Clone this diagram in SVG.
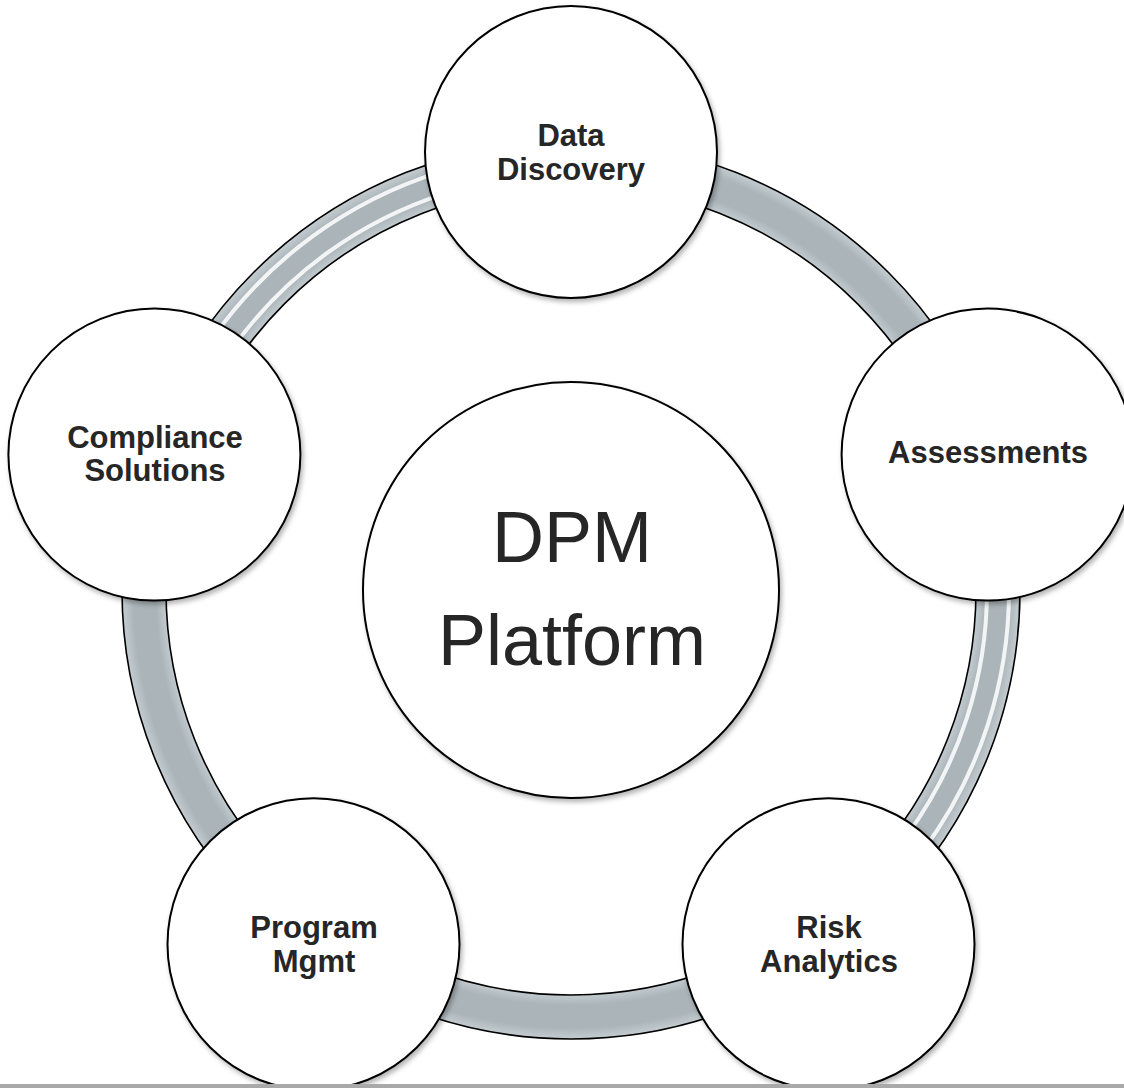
<svg xmlns="http://www.w3.org/2000/svg" width="1124" height="1088" viewBox="0 0 1124 1088">
  <style>
    .node { fill: #ffffff; stroke: #000000; stroke-width: 2; filter: url(#shadow); }
    .lbl { font-family: "Liberation Sans", Arial, sans-serif; font-weight: bold; font-size: 31px; fill: #262626; text-anchor: middle; }
    .big { font-family: "Liberation Sans", Arial, sans-serif; font-size: 72px; fill: #262626; text-anchor: middle; }
    .edge { fill: none; stroke: #000000; stroke-width: 1.6; }
    .stripe { fill: none; stroke: #ffffff; stroke-width: 4; stroke-opacity: 0.85; }
  </style>
  <defs>
    <filter id="shadow" x="-10%" y="-10%" width="125%" height="125%">
      <feDropShadow dx="2" dy="3" stdDeviation="2.5" flood-color="#000000" flood-opacity="0.3"/>
    </filter>
    <radialGradient id="bandGrad" gradientUnits="userSpaceOnUse" cx="571" cy="590" r="449">
      <stop offset="0.900" stop-color="#c4ccd0"/>
      <stop offset="0.925" stop-color="#abb5b9"/>
      <stop offset="0.975" stop-color="#abb5b9"/>
      <stop offset="1.000" stop-color="#c4ccd0"/>
    </radialGradient>
  </defs>
  <rect width="1124" height="1088" fill="#ffffff"/>

  <g id="connectors">
    <circle cx="571" cy="590" r="427" fill="none" stroke="url(#bandGrad)" stroke-width="44"/>
    <circle class="edge" cx="571" cy="590" r="449"/>
    <circle class="edge" cx="571" cy="590" r="405"/>
    <path class="stripe" d="M 966.6 461.4 A 416 416 0 0 1 815.5 926.6"/>
    <path class="stripe" d="M 987.6 454.6 A 438 438 0 0 1 828.5 944.3" stroke-opacity="0.7"/>
    <path class="stripe" d="M 175.4 461.4 A 416 416 0 0 1 571 174"/>
    <path class="stripe" d="M 154.4 454.6 A 438 438 0 0 1 571 152" stroke-opacity="0.7"/>
  </g>

  <g id="node-center">
    <circle class="node" cx="571" cy="590" r="208"/>
    <text class="big" x="572" y="562">DPM</text>
    <text class="big" x="572" y="665">Platform</text>
  </g>

  <g id="node-data-discovery">
    <circle class="node" cx="571" cy="152" r="146"/>
    <text class="lbl" x="571" y="146">Data</text>
    <text class="lbl" x="571" y="180">Discovery</text>
  </g>

  <g id="node-assessments">
    <circle class="node" cx="987.6" cy="454.6" r="146"/>
    <text class="lbl" x="988" y="463">Assessments</text>
  </g>

  <g id="node-risk-analytics">
    <circle class="node" cx="828.5" cy="944.3" r="146"/>
    <text class="lbl" x="829" y="938">Risk</text>
    <text class="lbl" x="829" y="972">Analytics</text>
  </g>

  <g id="node-program-mgmt">
    <circle class="node" cx="313.5" cy="944.3" r="146"/>
    <text class="lbl" x="314" y="938">Program</text>
    <text class="lbl" x="314" y="972">Mgmt</text>
  </g>

  <g id="node-compliance-solutions">
    <circle class="node" cx="154.4" cy="454.6" r="146"/>
    <text class="lbl" x="155" y="448">Compliance</text>
    <text class="lbl" x="155" y="481">Solutions</text>
  </g>

  <rect x="0" y="1084" width="1124" height="4" fill="#a9a9a9"/>
</svg>
